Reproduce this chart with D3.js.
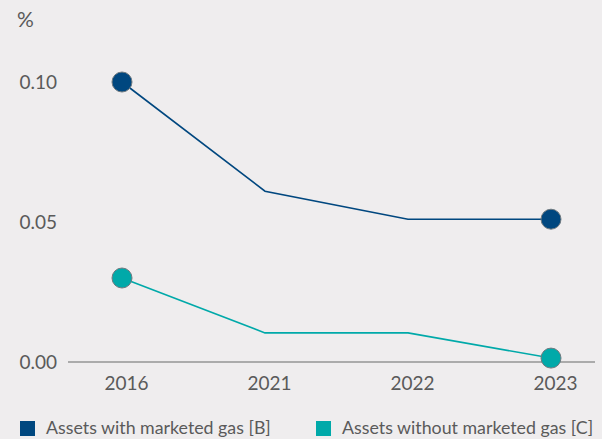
<!DOCTYPE html>
<html><head><meta charset="utf-8">
<script src="https://cdn.jsdelivr.net/npm/d3@7"></script>
<style>
html,body{margin:0;padding:0;background:#efedee;}
svg{display:block;}
text{font-family:Lato, "Open Sans", sans-serif;fill:#5a5a5a;}
</style></head>
<body><svg id="c" width="602" height="439"></svg>
<script>
const years = ["2016", "2021", "2022", "2023"];
const withGas = [0.100, 0.061, 0.051, 0.051];
const withoutGas = [0.030, 0.0104, 0.0104, 0.0014];
const yTicks = [0.00, 0.05, 0.10];
const seriesNames = ["Assets with marketed gas [B]", "Assets without marketed gas [C]"];
const colors = ["#00477f", "#00a9a9"];

const svg = d3.select("#c");
const x = d3.scalePoint().domain(years).range([122, 551]);
const y = d3.scaleLinear().domain([0, 0.10]).range([362, 82]);

// unit
svg.append("text").attr("x", 17).attr("y", 27).style("font-size", "21px").text("%");

// baseline
svg.append("line").attr("x1", 68).attr("x2", 595).attr("y1", y(0)).attr("y2", y(0))
  .attr("stroke", "#ababab").attr("stroke-width", 2);

// y axis labels
const yAxis = d3.axisLeft(y).tickValues(yTicks).tickFormat(d3.format(".2f")).tickSize(0).tickPadding(0);
const ya = svg.append("g").attr("transform", "translate(57,0)").call(yAxis);
ya.select(".domain").remove();
ya.selectAll("text").style("font-size", "19px").attr("fill", "#5a5a5a").style("font-family", "Lato, sans-serif").attr("dy", "0.35em");

// x axis labels
const xAxis = d3.axisBottom(x).tickSize(0).tickPadding(0);
const xa = svg.append("g").attr("transform", "translate(4,376)").call(xAxis);
xa.select(".domain").remove();
xa.selectAll("text").style("font-size", "19px").attr("fill", "#5a5a5a").style("font-family", "Lato, sans-serif").attr("dy", "0.71em");

const line = d3.line().x((d, i) => x(years[i])).y(d => y(d));
[withGas, withoutGas].forEach((vals, k) => {
  svg.append("path").datum(vals).attr("d", line).attr("fill", "none")
    .attr("stroke", colors[k]).attr("stroke-width", 1.6);
  const ends = [0, vals.length - 1];
  svg.selectAll(null).data(ends).enter().append("circle")
    .attr("cx", i => x(years[i])).attr("cy", i => y(vals[i])).attr("r", 10)
    .attr("fill", colors[k]).attr("stroke", "#6f7a80").attr("stroke-width", 1);
});

// legend
const legX = [20, 316];
seriesNames.forEach((n, k) => {
  svg.append("rect").attr("x", legX[k]).attr("y", 421).attr("width", 15).attr("height", 15).attr("fill", colors[k]);
  svg.append("text").attr("x", legX[k] + 26).attr("y", 434).style("font-size", "17.8px").text(n);
});
</script></body></html>
